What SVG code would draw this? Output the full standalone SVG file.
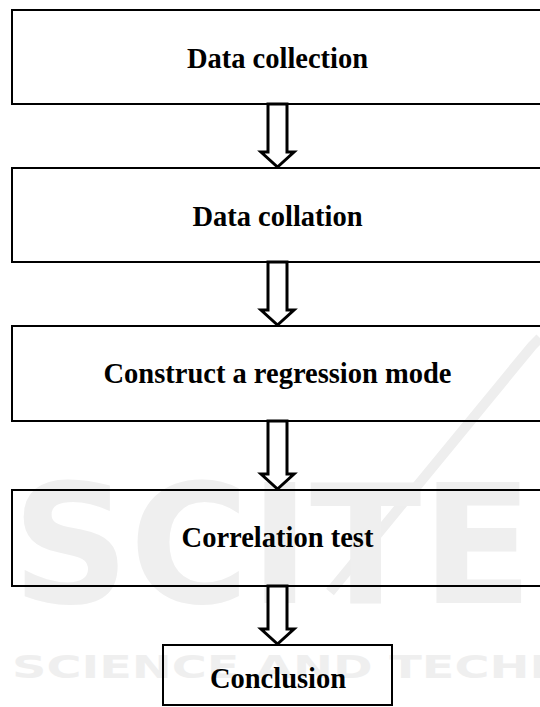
<svg xmlns="http://www.w3.org/2000/svg" width="540" height="707" viewBox="0 0 540 707">
  <style>
    .box { fill: none; stroke: #000000; stroke-width: 2; }
    .arrow { fill: #ffffff; stroke: #000000; stroke-width: 3; stroke-linejoin: miter; }
    .label { font-family: "Liberation Serif", "Times New Roman", serif; font-weight: bold; font-size: 28.5px; fill: #000000; text-anchor: middle; }
    .wm { font-family: "DejaVu Sans", "Liberation Sans", sans-serif; font-weight: bold; fill: #efefef; }
  </style>

  <rect width="540" height="707" fill="#ffffff"/>

  <!-- faint publisher mark, kept underneath everything else -->
  <g id="watermark">
    <polyline points="540,338 532,346 330,592" fill="none" stroke="#eeeeee" stroke-width="10"/>
    <text class="wm" x="12" y="603" font-size="165" textLength="521" lengthAdjust="spacingAndGlyphs">SCITE</text>
    <text class="wm" x="12" y="678" font-size="32" textLength="740" lengthAdjust="spacingAndGlyphs">SCIENCE AND TECHNOLOGY</text>
  </g>

  <!-- process steps -->
  <g id="node-data-collection">
    <rect class="box" x="12" y="10" width="531" height="94"/>
    <text class="label" x="277.5" y="68">Data collection</text>
  </g>
  <g id="node-data-collation">
    <rect class="box" x="12" y="168" width="531" height="94"/>
    <text class="label" x="277.5" y="226">Data collation</text>
  </g>
  <g id="node-regression">
    <rect class="box" x="12" y="326" width="531" height="95"/>
    <text class="label" x="277.5" y="383">Construct a regression mode</text>
  </g>
  <g id="node-correlation">
    <rect class="box" x="12" y="490" width="531" height="96"/>
    <text class="label" x="277.5" y="547">Correlation test</text>
  </g>
  <g id="node-conclusion">
    <rect class="box" x="163" y="645" width="229" height="60"/>
    <text class="label" x="278" y="688">Conclusion</text>
  </g>

  <!-- block arrows between steps -->
  <g id="connectors">
    <polygon class="arrow" points="268,104 268,152 261,152 277.5,167 294,152 287,152 287,104"/>
    <polygon class="arrow" points="268,262 268,310 261,310 277.5,325 294,310 287,310 287,262"/>
    <polygon class="arrow" points="268,421 268,474 261,474 277.5,489 294,474 287,474 287,421"/>
    <polygon class="arrow" points="268,586 268,629 261,629 277.5,644 294,629 287,629 287,586"/>
  </g>
</svg>
